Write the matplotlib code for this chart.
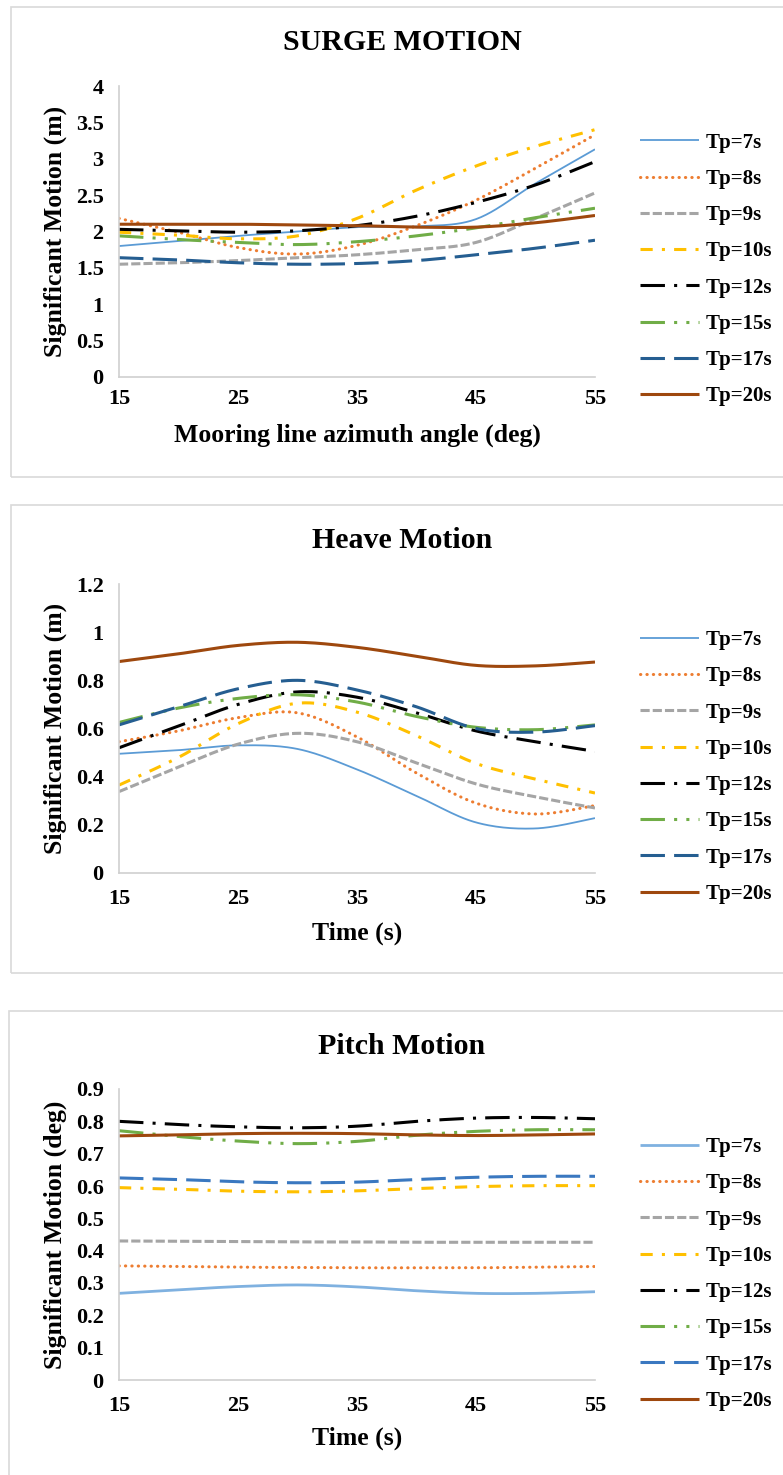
import numpy as np
import matplotlib
matplotlib.use("Agg")
import matplotlib.pyplot as plt
from matplotlib.patches import Rectangle
from matplotlib.lines import Line2D

# ---------------------------------------------------------------- data
angles = [15, 20, 25, 30, 35, 40, 45, 50, 55]
series_labels = ["Tp=7s", "Tp=8s", "Tp=9s", "Tp=10s", "Tp=12s", "Tp=15s", "Tp=17s", "Tp=20s"]

surge_tp7 = [1.80, 1.87, 1.94, 2.00, 2.06, 2.07, 2.17, 2.66, 3.13]
surge_tp8 = [2.18, 1.99, 1.78, 1.69, 1.81, 2.08, 2.43, 2.87, 3.33]
surge_tp9 = [1.55, 1.57, 1.60, 1.64, 1.68, 1.75, 1.85, 2.18, 2.53]
surge_tp10 = [1.99, 1.95, 1.90, 1.94, 2.18, 2.57, 2.90, 3.17, 3.40]
surge_tp12 = [2.03, 2.01, 1.99, 2.01, 2.08, 2.21, 2.40, 2.64, 2.96]
surge_tp15 = [1.94, 1.89, 1.85, 1.82, 1.86, 1.94, 2.05, 2.19, 2.32]
surge_tp17 = [1.64, 1.61, 1.57, 1.55, 1.56, 1.60, 1.68, 1.77, 1.88]
surge_tp20 = [2.10, 2.10, 2.10, 2.09, 2.08, 2.06, 2.06, 2.12, 2.22]

heave_tp7 = [0.495, 0.51, 0.53, 0.515, 0.43, 0.32, 0.21, 0.185, 0.228]
heave_tp8 = [0.545, 0.59, 0.645, 0.665, 0.565, 0.415, 0.29, 0.245, 0.28]
heave_tp9 = [0.338, 0.44, 0.535, 0.58, 0.545, 0.457, 0.37, 0.316, 0.27]
heave_tp10 = [0.365, 0.48, 0.62, 0.705, 0.668, 0.57, 0.455, 0.39, 0.332]
heave_tp12 = [0.52, 0.61, 0.70, 0.752, 0.73, 0.665, 0.59, 0.545, 0.505]
heave_tp15 = [0.625, 0.685, 0.725, 0.74, 0.71, 0.65, 0.605, 0.595, 0.615]
heave_tp17 = [0.615, 0.69, 0.765, 0.80, 0.76, 0.69, 0.60, 0.585, 0.612]
heave_tp20 = [0.878, 0.91, 0.945, 0.958, 0.937, 0.90, 0.862, 0.860, 0.876]

pitch_tp7 = [0.268, 0.279, 0.289, 0.294, 0.288, 0.276, 0.268, 0.268, 0.273]
pitch_tp8 = [0.353, 0.351, 0.349, 0.348, 0.347, 0.347, 0.347, 0.349, 0.351]
pitch_tp9 = [0.430, 0.429, 0.428, 0.427, 0.427, 0.426, 0.426, 0.426, 0.426]
pitch_tp10 = [0.595, 0.590, 0.584, 0.582, 0.585, 0.592, 0.598, 0.601, 0.601]
pitch_tp12 = [0.800, 0.790, 0.783, 0.780, 0.785, 0.800, 0.810, 0.812, 0.808]
pitch_tp15 = [0.771, 0.753, 0.739, 0.731, 0.738, 0.757, 0.769, 0.774, 0.774]
pitch_tp17 = [0.625, 0.620, 0.613, 0.610, 0.612, 0.620, 0.627, 0.630, 0.630]
pitch_tp20 = [0.755, 0.758, 0.762, 0.763, 0.762, 0.758, 0.756, 0.758, 0.761]

x_ticks = [15, 25, 35, 45, 55]
surge_yticks = [0, 0.5, 1, 1.5, 2, 2.5, 3, 3.5, 4]
heave_yticks = [0, 0.2, 0.4, 0.6, 0.8, 1, 1.2]
pitch_yticks = [0, 0.1, 0.2, 0.3, 0.4, 0.5, 0.6, 0.7, 0.8, 0.9]

# ---------------------------------------------------------------- styles
colors = ["#5B9BD5", "#ED7D31", "#A5A5A5", "#FFC000", "#000000",
          "#70AD47", "#255E91", "#9E480E"]
dashes = ["-", (0, (0.1, 2.0)), (0, (3, 1)), (0, (4, 3, 1, 3)),
          (0, (8, 3, 1, 3)), (0, (8, 3, 1, 3, 1, 3)), (0, (8, 3)), "-"]
widths = [1.3, 2.2, 2.2, 2.2, 2.2, 2.2, 2.2, 2.2]

FONT = "Liberation Serif"
W, H = 783, 1475
fig = plt.figure(figsize=(W / 100, H / 100), dpi=100)


def smooth(x, y, n=24):
    """Smoothed line through the points (cubic Bezier, Excel-style)."""
    p = np.column_stack([x, y]).astype(float)
    q = np.vstack([p[0], p, p[-1]])
    t = np.linspace(0, 1, n, endpoint=False)[:, None]
    out = []
    for i in range(1, len(q) - 2):
        p0, p1, p2, p3 = q[i - 1], q[i], q[i + 1], q[i + 2]
        c1 = p1 + (p2 - p0) / 6.0
        c2 = p2 - (p3 - p1) / 6.0
        out.append((1 - t) ** 3 * p1 + 3 * (1 - t) ** 2 * t * c1
                   + 3 * (1 - t) * t ** 2 * c2 + t ** 3 * p2)
    out.append(p[-1][None, :])
    c = np.vstack(out)
    return c[:, 0], c[:, 1]


def fx(px):
    return px / W


def fy(py):
    return 1 - py / H


def panel(box, ax_top, ax_bot, title, title_y, series, yticks, ylabel, xlabel,
          tick_y, xlabel_y, leg_top, leg_bot, cols, lws):
    bx0, by0, bx1, by1 = box
    fig.patches.append(Rectangle((fx(bx0), fy(by1)), fx(bx1 - bx0), (by1 - by0) / H,
                                 transform=fig.transFigure, fill=False,
                                 edgecolor="#D9D9D9", lw=1.2, zorder=0))
    ax = fig.add_axes([fx(119), fy(ax_bot), fx(595 - 119), (ax_bot - ax_top) / H])
    handles = []
    for ys, lab, c, d, lw in zip(series, series_labels, cols, dashes, lws):
        sx, sy = smooth(angles, ys)
        ln, = ax.plot(sx, sy, color=c, lw=lw, linestyle=d,
                      dash_capstyle="round" if d == dashes[1] else "butt",
                      solid_capstyle="butt", label=lab)
        handles.append(ln)
    ax.set_xlim(15, 55)
    ax.set_ylim(yticks[0], yticks[-1])
    ax.set_xticks(x_ticks)
    ax.set_xticklabels([str(v) for v in x_ticks])
    ax.set_yticks(yticks)
    ax.set_yticklabels([f"{v:g}" for v in yticks])
    for sp in ("top", "right"):
        ax.spines[sp].set_visible(False)
    for sp in ("left", "bottom"):
        ax.spines[sp].set_color("#CFCFCF")
        ax.spines[sp].set_linewidth(1.2)
    ax.tick_params(length=0, labelsize=16, pad=11)
    ax.tick_params(axis="x", pad=(tick_y - ax_bot) * 0.72 - 8)
    for lb in ax.get_xticklabels() + ax.get_yticklabels():
        lb.set_fontfamily(FONT)
        lb.set_fontweight("bold")
    ax.set_xlabel(xlabel, fontsize=18.5, fontfamily=FONT, fontweight="bold", va="center")
    ax.xaxis.set_label_coords(0.5, -(xlabel_y - ax_bot) / (ax_bot - ax_top))
    ax.set_ylabel(ylabel, fontsize=18.5, fontfamily=FONT, fontweight="bold", va="center")
    ax.yaxis.set_label_coords(-(119 - 55) / 476, 0.5)
    fig.text(fx(402), fy(title_y), title, ha="center", va="center",
             fontsize=21.5, fontfamily=FONT, fontweight="bold")
    leg = ax.legend(handles=handles, loc="center left",
                    bbox_to_anchor=(fx(640), fy((leg_top + leg_bot) / 2)),
                    bbox_transform=fig.transFigure, frameon=False,
                    borderpad=0, borderaxespad=0, handlelength=2.85,
                    handletextpad=0.3, labelspacing=0.78,
                    prop={"family": FONT, "weight": "bold", "size": 15})
    return ax


panel((11, 7, 800, 477), 86, 377, "SURGE MOTION", 42,
      [surge_tp7, surge_tp8, surge_tp9, surge_tp10, surge_tp12, surge_tp15,
       surge_tp17, surge_tp20],
      surge_yticks, "Significant Motion (m)", "Mooring line azimuth angle (deg)",
      400, 435, 141, 398, colors, widths)

panel((11, 505, 800, 973), 584, 873, "Heave Motion", 540,
      [heave_tp7, heave_tp8, heave_tp9, heave_tp10, heave_tp12, heave_tp15,
       heave_tp17, heave_tp20],
      heave_yticks, "Significant Motion (m)", "Time (s)",
      900, 933, 638, 896, colors, widths)

pitch_colors = list(colors)
pitch_colors[0] = "#7FB1E0"
pitch_colors[6] = "#3A78C0"
pitch_widths = [2.0] + widths[1:]
panel((9, 1011, 800, 1490), 1089, 1380, "Pitch Motion", 1047,
      [pitch_tp7, pitch_tp8, pitch_tp9, pitch_tp10, pitch_tp12, pitch_tp15,
       pitch_tp17, pitch_tp20],
      pitch_yticks, "Significant Motion (deg)", "Time (s)",
      1407, 1438, 1145, 1403, pitch_colors, pitch_widths)

fig.savefig("out.png", dpi=100, facecolor="white")
